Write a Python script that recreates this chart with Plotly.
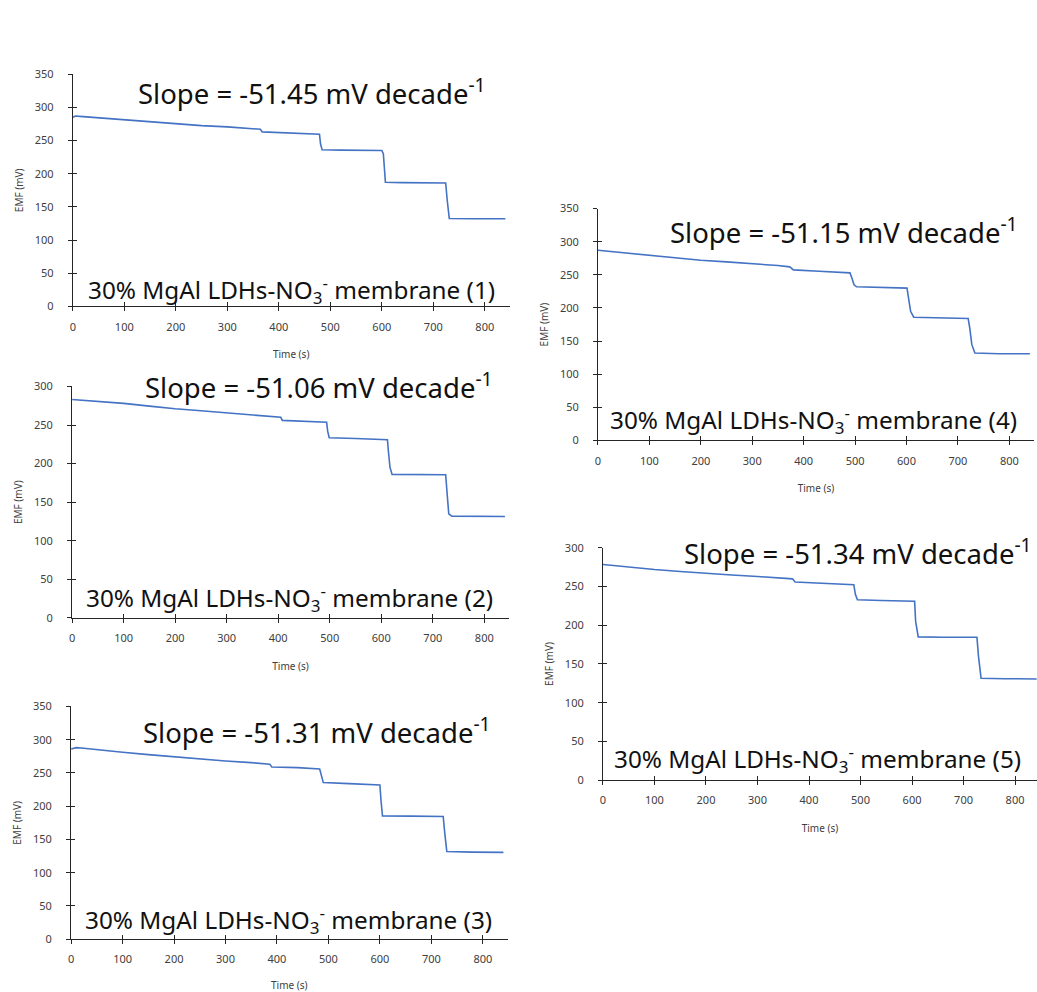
import plotly.graph_objects as go

W, H = 1037, 992

# ---- data ----
t1 = [0, 5, 20, 60, 100, 150, 200, 250, 300, 340, 364, 368, 400, 440, 479, 481, 484, 520, 560, 600, 603, 607, 640, 680, 724, 727, 731, 780, 840]
v1 = [285, 287, 286, 283.5, 281.5, 278.5, 275.5, 272.5, 270.5, 268.5, 267, 263, 262, 261, 259.5, 245, 236, 235.5, 235, 235, 230, 187, 186.5, 186, 186, 160, 132.5, 132, 132]

t2 = [0, 50, 100, 150, 200, 250, 300, 350, 400, 405, 408, 450, 494, 496, 499, 550, 600, 612, 614, 617, 621, 680, 725, 728, 731, 737, 780, 840]
v2 = [283, 280.5, 278, 274.5, 271, 268.5, 266, 263.5, 261, 260, 256, 255, 253.5, 242, 233.5, 232.5, 232, 231, 215, 195, 186, 186, 185.5, 160, 135, 132, 131.5, 131.5]

t3 = [0, 10, 20, 60, 100, 150, 200, 260, 300, 350, 386, 390, 440, 483, 486, 490, 540, 600, 602, 605, 660, 723, 726, 730, 780, 840]
v3 = [286, 288, 287.5, 284, 281, 277.5, 274, 270, 268, 265.5, 263, 259, 258, 256, 245, 235.5, 234, 232, 210, 185.5, 185, 184.5, 160, 132, 131, 130.5]

t4 = [0, 50, 100, 150, 200, 250, 300, 350, 373, 380, 430, 490, 494, 498, 503, 550, 601, 604, 608, 614, 660, 720, 723, 727, 733, 780, 840]
v4 = [287, 283, 279, 275.5, 272, 269.5, 267, 264, 262, 257.5, 255.5, 253, 245, 235, 232, 231, 230, 215, 195, 186, 185, 184, 170, 145, 132, 131, 131]

t5 = [0, 50, 100, 150, 200, 250, 300, 340, 368, 373, 420, 487, 490, 494, 540, 605, 607, 612, 660, 726, 729, 734, 780, 842]
v5 = [278.5, 275, 272, 269.5, 267, 265, 263, 261.5, 260, 256, 254.5, 252.5, 240, 233, 232, 231, 205, 185, 184.5, 184.5, 160, 131.5, 131, 130.6]

slopes = ["-51.45", "-51.06", "-51.31", "-51.15", "-51.34"]
labels = ["1", "2", "3", "4", "5"]
x_ticks = [0, 100, 200, 300, 400, 500, 600, 700, 800]
x_title = "Time (s)"
y_title = "EMF (mV)"

series = [(t1, v1), (t2, v2), (t3, v3), (t4, v4), (t5, v5)]


def fy(y):
    # page-pixel y -> figure-pixel y (compensates the vertical fit of the page)
    return (y - 7.9) / 0.984


# ---- layout geometry (pixels) ----
# (x_left, x_right, y_top, y_bottom, xmax, ymax)
panels = [
    (70, 508, 74, 306, 848, 350),
    (69.3, 507.5, 386, 617.3, 848, 300),
    (68.3, 506, 705.7, 938.3, 848, 350),
    (596.7, 1034, 208.3, 440, 848, 350),
    (601.7, 1037, 547.3, 779.3, 842.6, 300),
]
slope_pos = [(133, 91), (140, 385), (138, 730), (667, 230), (681, 551)]
memb_pos = [(83, 290), (81, 597), (80, 919), (607, 420), (611, 758)]

BLUE = "#4472C4"
FONT = "Noto Sans"
AXC = "#262626"
TXC = "#404040"

fig = go.Figure()
layout = dict(
    width=W, height=H,
    margin=dict(l=0, r=0, t=0, b=0),
    paper_bgcolor="white", plot_bgcolor="rgba(0,0,0,0)",
    showlegend=False,
    font=dict(family=FONT, color=TXC),
)
annotations = []

for i, ((t, v), (xl, xr, yt, yb, xmax, ymax)) in enumerate(zip(series, panels)):
    n = "" if i == 0 else str(i + 1)
    m = str(i + 6)  # overlay axes giving the cross-style ticks
    xdom = [xl / W, min(xr / W, 1.0)]
    ydom = [1 - fy(yb) / H, 1 - fy(yt) / H]
    fig.add_trace(go.Scatter(x=t, y=v, mode="lines",
                             line=dict(color=BLUE, width=1.6),
                             xaxis="x" + n, yaxis="y" + n, hoverinfo="skip"))
    fig.add_trace(go.Scatter(x=[], y=[], mode="lines",
                             xaxis="x" + m, yaxis="y" + m, hoverinfo="skip"))
    layout["xaxis" + n] = dict(
        domain=xdom, anchor="y" + n,
        range=[0, xmax], tickvals=x_ticks, showgrid=False, zeroline=False,
        showline=True, linecolor=AXC, linewidth=1,
        ticks="outside", ticklen=4, tickcolor=AXC,
        tickfont=dict(size=11, color=TXC),
        ticklabelstandoff=6,
        title=dict(text=x_title, font=dict(size=10, color=TXC), standoff=18),
    )
    layout["yaxis" + n] = dict(
        domain=ydom, anchor="x" + n,
        range=[0, ymax], dtick=50, showgrid=False, zeroline=False,
        showline=True, linecolor=AXC, linewidth=1,
        ticks="outside", ticklen=4, tickcolor=AXC,
        tickfont=dict(size=11, color=TXC),
        ticklabelstandoff=12,
        title=dict(text=y_title, font=dict(size=10, color=TXC), standoff=9),
    )
    layout["xaxis" + m] = dict(
        domain=xdom, anchor="y" + m,
        range=[0, xmax], tickvals=x_ticks, showgrid=False, zeroline=False,
        showline=False, showticklabels=False,
        ticks="inside", ticklen=4, tickcolor=AXC,
    )
    layout["yaxis" + m] = dict(
        domain=ydom, anchor="x" + m,
        range=[0, ymax], dtick=50, showgrid=False, zeroline=False,
        showline=False, showticklabels=False,
        ticks="inside", ticklen=4, tickcolor=AXC,
    )
    sx, sy = slope_pos[i]
    annotations.append(dict(
        text="Slope = " + slopes[i] + " mV decade<sup>-1</sup>",
        x=sx / W, y=1 - fy(sy) / H, xref="paper", yref="paper",
        xanchor="left", yanchor="middle", showarrow=False,
        font=dict(size=27.5, color="#111111", family=FONT)))
    mx, my = memb_pos[i]
    annotations.append(dict(
        text="30% MgAl LDHs-NO<sub>3</sub><sup>-</sup> membrane (" + labels[i] + ")",
        x=mx / W, y=1 - fy(my) / H, xref="paper", yref="paper",
        xanchor="left", yanchor="middle", showarrow=False,
        font=dict(size=24.3, color="#111111", family=FONT)))

layout["annotations"] = annotations
fig.update_layout(**layout)
fig.write_html("out.html")
